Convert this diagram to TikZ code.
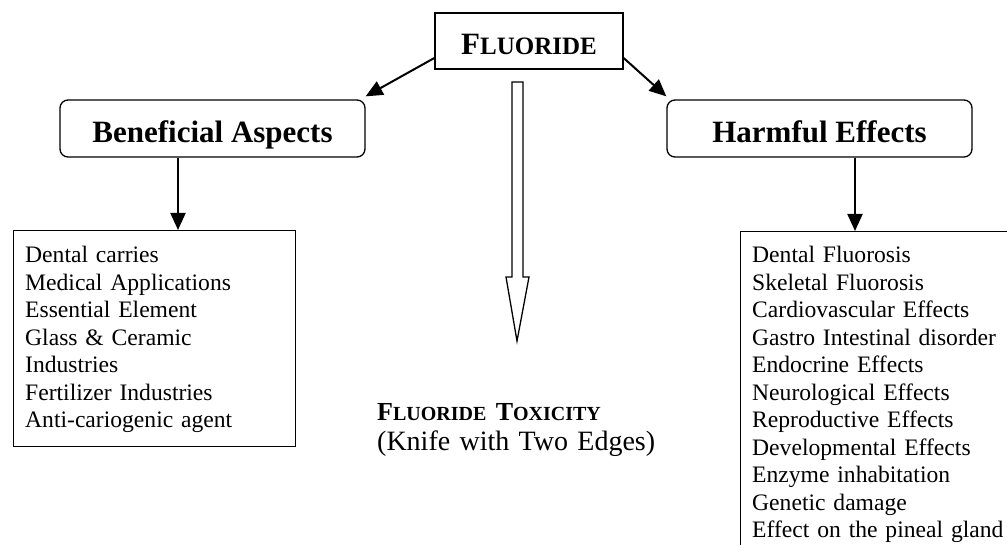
\documentclass[tikz,border=0pt]{standalone}
\usepackage{fontspec}
\setmainfont{Liberation Serif}
\usetikzlibrary{arrows.meta}
\begin{document}
\begin{tikzpicture}[x=1pt,y=-1pt,
  box/.style={draw, line width=1.3pt, inner sep=0pt},
  rbox/.style={box, rounded corners=8pt, minimum width=305pt, minimum height=57pt,
    font=\bfseries\fontsize{31}{31}\selectfont, text height=29pt, text depth=0pt},
  conn/.style={line width=2pt, -{Triangle[length=17pt,width=15pt]}},
  listtext/.style={inner sep=0pt, align=left, anchor=base west,
    font=\fontsize{23.6}{27.5}\selectfont, text width=265pt},
  hollow/.style={draw, line width=1.3pt, line join=miter}
]
\useasboundingbox (0,0) rectangle (1007,545);
\clip (0,0) rectangle (1007,545);

% top node
\node[box, minimum width=188pt, minimum height=56pt, text height=28pt, text depth=0pt,
  font=\bfseries] (fl) at (529,41)
  {{\fontsize{31}{31}\selectfont F}{\fontsize{25}{25}\selectfont LUORIDE}};

% category boxes
\node[rbox] (bene) at (212.5,128.5) {Beneficial Aspects};
\node[rbox] (harm) at (819.5,128.5) {Harmful Effects};

% list boxes
\node[box, minimum width=282pt, minimum height=216pt, anchor=north west] (lbox) at (13,230) {};
\node[listtext] (ltext) at (25,263)
  {Dental carries\\Medical Applications\\Essential Element\\Glass \& Ceramic\\Industries\\Fertilizer Industries\\Anti-cariogenic agent};

\node[box, minimum width=300pt, minimum height=340pt, anchor=north west] (rbox) at (740,231) {};
\node[listtext] (rtext) at (752,263)
  {Dental Fluorosis\\Skeletal Fluorosis\\Cardiovascular Effects\\Gastro Intestinal disorder\\Endocrine Effects\\Neurological Effects\\Reproductive Effects\\Developmental Effects\\Enzyme inhabitation\\Genetic damage\\Effect on the pineal gland};

% toxicity label
\node[inner sep=0pt, anchor=base west, align=left, text width=300pt,
  font=\fontsize{28}{30}\selectfont] (tox) at (377,420)
  {{\bfseries\fontsize{26}{30}\selectfont F\fontsize{20}{30}\selectfont LUORIDE \fontsize{26}{30}\selectfont T\fontsize{20}{30}\selectfont OXICITY}\\
   (Knife with Two Edges)};

% connectors
\draw[conn] ([yshift=-17pt]fl.west) -- ([yshift=3pt]bene.north east);
\draw[conn] ([yshift=-17pt]fl.east) -- ([yshift=3pt]harm.north west);
\draw[conn] ([xshift=-34.5pt]bene.south) -- ([xshift=-34.5pt]bene.south |- lbox.north);
\draw[conn] ([xshift=35.5pt]harm.south) -- ([xshift=35.5pt]harm.south |- rbox.north);

% hollow downward arrow
\draw[hollow] (512,82) -- (523,82) -- (523,277) -- (529,277) -- (517,341)
  -- (506,277) -- (512,277) -- cycle;
\end{tikzpicture}
\end{document}
